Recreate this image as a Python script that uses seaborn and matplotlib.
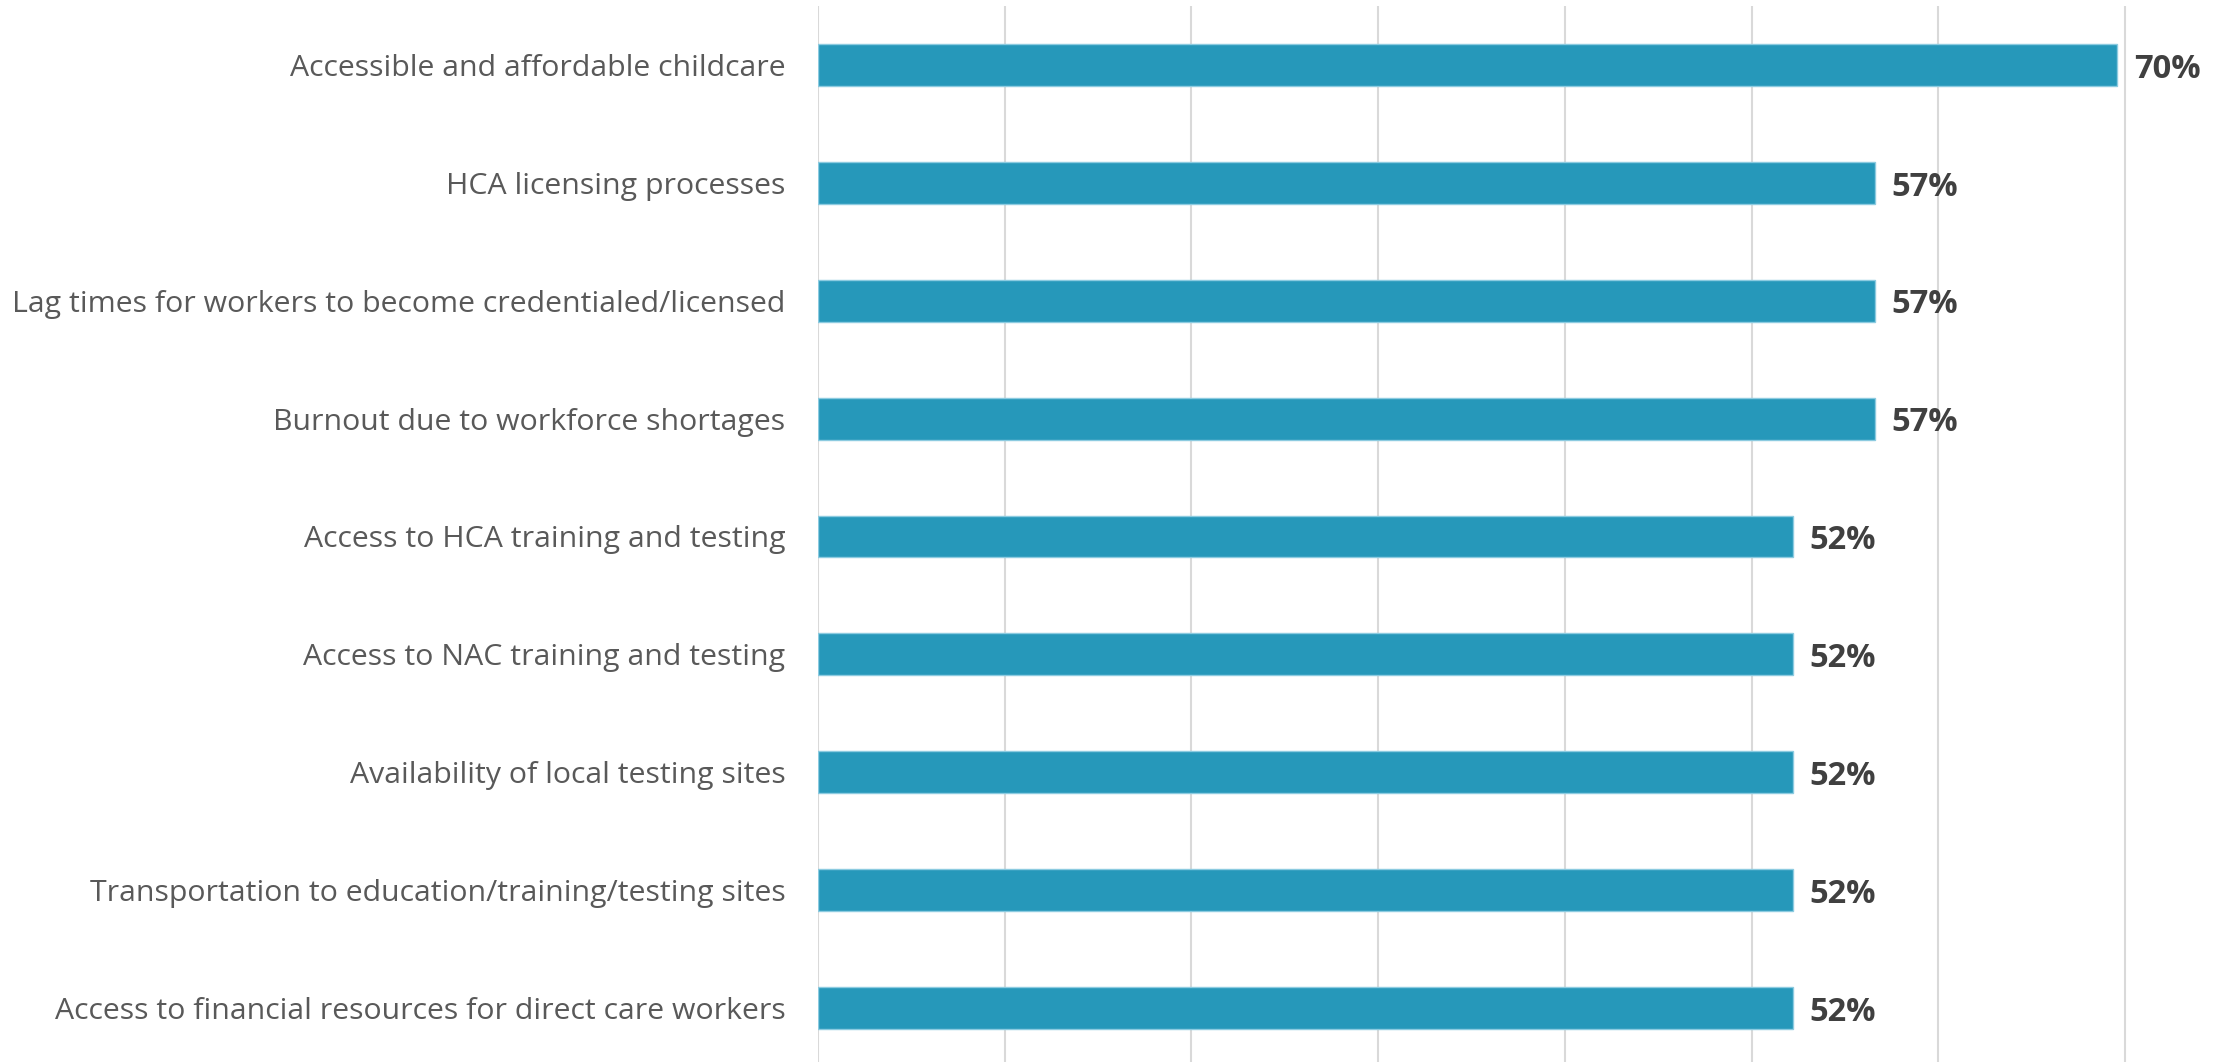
import matplotlib
matplotlib.use("Agg")
import matplotlib.pyplot as plt
import pandas as pd
import seaborn as sns

# Barriers to building the direct care workforce, share of respondents (%)
categories = [
    "Accessible and affordable childcare",
    "HCA licensing processes",
    "Lag times for workers to become credentialed/licensed",
    "Burnout due to workforce shortages",
    "Access to HCA training and testing",
    "Access to NAC training and testing",
    "Availability of local testing sites",
    "Transportation to education/training/testing sites",
    "Access to financial resources for direct care workers",
]
values = [69.6, 56.6, 56.6, 56.6, 52.2, 52.2, 52.2, 52.2, 52.2]
value_labels = [f"{v:.0f}%" for v in values]

BAR_COLOR = "#2698BA"
GRID_COLOR = "#d9d9d9"

sns.set_theme(style="white")
plt.rcParams["font.family"] = ["Open Sans", "DejaVu Sans"]

W, H = 2215, 1062
PX_PER_PCT = 18.67
fig = plt.figure(figsize=(W / 100, H / 100), dpi=100)
ax = fig.add_axes([818 / W, -5 / H, 75 * PX_PER_PCT / W, 1061 / H])

df = pd.DataFrame({"barrier": categories, "share": values})
sns.barplot(
    data=df, x="share", y="barrier", orient="h",
    color=BAR_COLOR, saturation=1, width=0.356,
    edgecolor="#8ccbe0", linewidth=1.0, ax=ax,
)

ax.set_xlim(0, 75)
ax.set_xticks(range(0, 71, 10))
ax.xaxis.grid(True, color=GRID_COLOR, linewidth=1.5)
ax.yaxis.grid(False)
ax.set_axisbelow(True)
for spine in ax.spines.values():
    spine.set_visible(False)
ax.tick_params(axis="x", bottom=False, labelbottom=False)
ax.tick_params(axis="y", left=False, pad=17.5, labelsize=21.8, labelcolor="#595959")
ax.set_xlabel("")
ax.set_ylabel("")

for patch, text in zip(ax.patches, value_labels):
    y = patch.get_y() + patch.get_height() / 2
    ax.annotate(
        text, xy=(patch.get_width(), y), xytext=(12, -3),
        textcoords="offset points", ha="left", va="center",
        fontsize=23.5, fontweight="bold", color="#404040",
    )

fig.savefig("out.png", dpi=100)
